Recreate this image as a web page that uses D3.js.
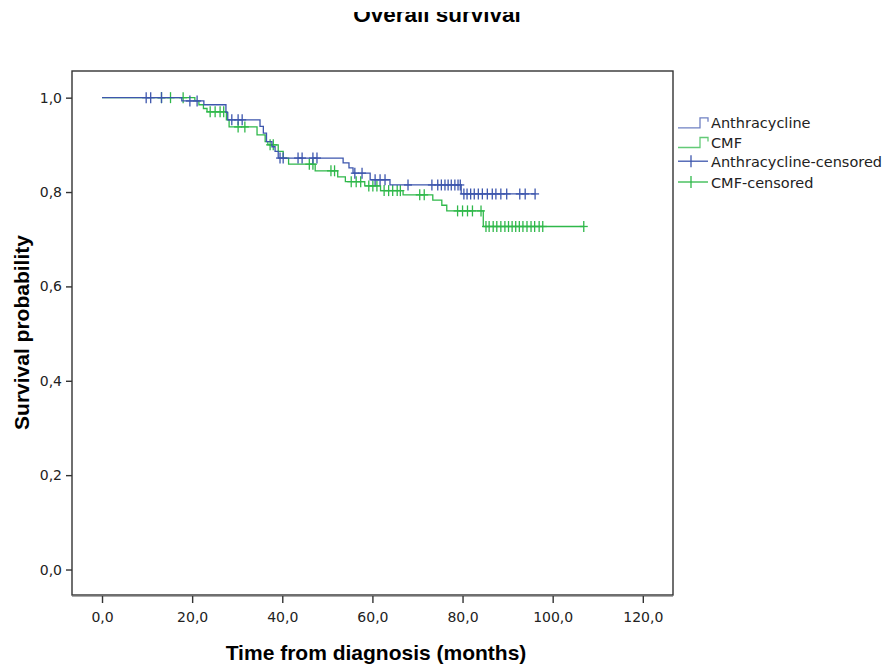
<!DOCTYPE html>
<html lang="en">
<head>
<meta charset="UTF-8">
<title>Overall survival</title>
<script src="https://cdn.jsdelivr.net/npm/d3@7"></script>
<style>
  body { margin: 0; background: #fff; }
</style>
</head>
<body>
<script>
  // data (months, survival probability)
  const antEventTimes = [17.7, 22.6, 27.5, 27.9, 35.06, 35.8, 36.5, 37.7, 38.4, 39.1, 53.5, 54.8, 55.7, 59.5, 63.9, 79.7];
  const antSurvival   = [0.993, 0.985, 0.969, 0.953, 0.939, 0.925, 0.907, 0.896, 0.886, 0.872, 0.862, 0.851, 0.840, 0.826, 0.815, 0.796];
  const antCensored   = [9.8, 10.8, 13.2, 19.5, 21.1, 28.8, 30.2, 31.1, 39.5, 40.2, 43.5, 44.4, 46.8, 47.7, 56.1, 57.7,
    60.6, 61.7, 62.8, 67.9, 73.2, 74.5, 75.3, 76.1, 76.8, 77.5, 78.3, 79.0, 79.5, 80.3, 81.0, 81.8, 82.6, 83.5,
    84.4, 85.5, 86.6, 87.4, 88.5, 89.8, 92.7, 93.9, 96.1];

  const cmfEventTimes = [20.6, 21.5, 22.5, 23.3, 27.6, 28.2, 34.4, 36.2, 36.8, 39.1, 40.2, 41.4, 47.3, 52.3, 54.0, 58.3, 61.8, 66.8, 73.4, 75.4, 76.5, 84.6];
  const cmfSurvival   = [0.993, 0.985, 0.977, 0.970, 0.953, 0.938, 0.921, 0.907, 0.900, 0.886, 0.872, 0.859, 0.845, 0.832, 0.822, 0.813, 0.803, 0.794, 0.783, 0.772, 0.760, 0.727];
  const cmfCensored   = [13.2, 15.2, 18.0, 24.0, 25.1, 26.2, 27.0, 30.2, 31.7, 37.3, 38.0, 46.0, 46.8, 50.8, 51.6, 55.3,
    56.4, 57.4, 59.2, 60.1, 61.0, 62.6, 63.6, 64.5, 65.5, 66.2, 70.5, 71.5, 78.9, 80.0, 81.1, 82.2, 84.1, 85.2,
    85.9, 86.8, 87.6, 88.5, 89.4, 90.2, 91.0, 91.8, 92.6, 93.4, 94.3, 95.2, 96.0, 97.0, 97.8, 106.9];

  const xTicks = [0, 20, 40, 60, 80, 100, 120];
  const yTicks = [0, 0.2, 0.4, 0.6, 0.8, 1.0];
  const legendLabels = ["Anthracycline", "CMF", "Anthracycline-censored", "CMF-censored"];

  const blue = "#3d56ad";
  const green = "#2fb84a";

  const width = 885, height = 666;
  const box = { left: 72, top: 71, right: 673, bottom: 595 };

  const svg = d3.select("body").append("svg")
    .attr("width", width)
    .attr("height", height)
    .style("font-family", "'DejaVu Sans', sans-serif");

  const x = d3.scaleLinear().domain([-6.66, 126.7]).range([box.left, box.right]);
  const y = d3.scaleLinear().domain([-0.054, 1.0565]).range([box.bottom, box.top]);

  const fmt = d => d3.format(".1f")(d).replace(".", ",");

  // step function helpers
  function stepPoints(times, surv, censored) {
    const end = Math.max(times[times.length - 1], d3.max(censored));
    const pts = [[0, 1]];
    times.forEach((t, i) => pts.push([t, surv[i]]));
    pts.push([end, surv[surv.length - 1]]);
    return pts;
  }
  function survAt(times, surv, t) {
    let s = 1;
    times.forEach((tt, i) => { if (tt <= t) s = surv[i]; });
    return s;
  }

  const line = d3.line()
    .x(d => x(d[0]))
    .y(d => y(d[1]))
    .curve(d3.curveStepAfter);

  const groups = [
    { times: antEventTimes, surv: antSurvival, cens: antCensored, color: blue },
    { times: cmfEventTimes, surv: cmfSurvival, cens: cmfCensored, color: green }
  ];

  // draw cmf first? reference shows blue over green near the top, draw green then blue
  const plot = svg.append("g");
  groups.slice().reverse().forEach(g => {
    plot.append("path")
      .attr("d", line(stepPoints(g.times, g.surv, g.cens)))
      .attr("fill", "none")
      .attr("stroke", g.color)
      .attr("stroke-width", 1.3);

    const marks = plot.append("g").selectAll("g")
      .data(g.cens)
      .enter()
      .append("g")
      .attr("transform", t => "translate(" + x(t) + "," + y(survAt(g.times, g.surv, t)) + ")");
    marks.append("line")
      .attr("x1", 0).attr("x2", 0).attr("y1", -5.5).attr("y2", 5.5)
      .attr("stroke", g.color).attr("stroke-width", 1.3);
    marks.append("line")
      .attr("x1", -4).attr("x2", 4).attr("y1", 0).attr("y2", 0)
      .attr("stroke", g.color).attr("stroke-width", 1.3);
  });

  // frame
  svg.append("line")
    .attr("x1", box.left).attr("x2", box.right)
    .attr("y1", box.bottom + 1.5).attr("y2", box.bottom + 1.5)
    .attr("stroke", "#aaa").attr("stroke-width", 1);
  svg.append("rect")
    .attr("x", box.left).attr("y", box.top)
    .attr("width", box.right - box.left).attr("height", box.bottom - box.top)
    .attr("fill", "none").attr("stroke", "#333").attr("stroke-width", 1.4);

  // y axis
  const yAxis = d3.axisLeft(y).tickValues(yTicks).tickFormat(fmt).tickSize(6).tickPadding(4);
  const gy = svg.append("g").attr("transform", "translate(" + box.left + ",0)").call(yAxis);
  gy.select(".domain").remove();

  // x axis
  const xAxis = d3.axisBottom(x).tickValues(xTicks).tickFormat(fmt).tickSize(7).tickPadding(9);
  const gx = svg.append("g").attr("transform", "translate(0," + (box.bottom + 1) + ")").call(xAxis);
  gx.select(".domain").remove();

  svg.selectAll(".tick line").attr("stroke", "#333").attr("stroke-width", 1.4);
  svg.selectAll(".tick text")
    .attr("fill", "#222")
    .style("font-family", "'DejaVu Sans', sans-serif")
    .style("font-size", "14px");

  // axis titles
  svg.append("text")
    .attr("x", 376).attr("y", 659.5)
    .attr("text-anchor", "middle")
    .style("font-family", "'Liberation Sans', Arial, sans-serif")
    .style("font-weight", "bold")
    .style("font-size", "21px")
    .text("Time from diagnosis (months)");

  svg.append("text")
    .attr("transform", "translate(28.5,332.5) rotate(-90)")
    .attr("text-anchor", "middle")
    .style("font-family", "'Liberation Sans', Arial, sans-serif")
    .style("font-weight", "bold")
    .style("font-size", "21px")
    .text("Survival probability");

  // title, top of it cut off as in the picture
  svg.append("clipPath").attr("id", "titleclip")
    .append("rect").attr("x", 0).attr("y", 12).attr("width", width).attr("height", 30);
  svg.append("text")
    .attr("x", 437).attr("y", 22.3)
    .attr("text-anchor", "middle")
    .attr("clip-path", "url(#titleclip)")
    .style("font-family", "'Liberation Sans', Arial, sans-serif")
    .style("font-weight", "bold")
    .style("font-size", "22.5px")
    .text("Overall survival");

  // legend
  const legendColors = [blue, green, blue, green];
  const legendBase = [128.3, 148, 166.7, 187.5];
  const leg = svg.append("g");
  legendLabels.forEach((lab, i) => {
    const b = legendBase[i];
    if (i < 2) {
      leg.append("path")
        .attr("d", "M678," + (b - 0.5) + "H700V" + (b - 10.5) + "H708V" + (b - 6.5))
        .attr("fill", "none")
        .attr("stroke", legendColors[i])
        .attr("stroke-opacity", 0.75)
        .attr("stroke-width", 1.3);
    } else {
      leg.append("line")
        .attr("x1", 678).attr("x2", 708).attr("y1", b - 5.5).attr("y2", b - 5.5)
        .attr("stroke", legendColors[i]).attr("stroke-width", 1.3);
      leg.append("line")
        .attr("x1", 691).attr("x2", 691).attr("y1", b - 11.5).attr("y2", b + 0.5)
        .attr("stroke", legendColors[i]).attr("stroke-width", 1.3);
    }
    leg.append("text")
      .attr("x", 711).attr("y", b)
      .attr("fill", "#222")
      .style("font-size", "14.5px")
      .text(lab);
  });
</script>
</body>
</html>
